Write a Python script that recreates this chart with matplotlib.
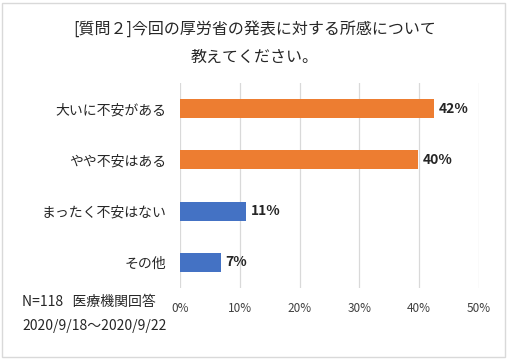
import matplotlib.pyplot as plt
from matplotlib.patches import Rectangle

plt.rcParams['font.family'] = ['Noto Sans CJK JP', 'DejaVu Sans']

# data
categories = ['大いに不安がある', 'やや不安はある', 'まったく不安はない', 'その他']
values = [42.4, 39.8, 11.0, 6.8]
labels = ['42%', '40%', '11%', '7%']
colors = ['#ED7D31', '#ED7D31', '#4472C4', '#4472C4']
xticks = [0, 10, 20, 30, 40, 50]

fig = plt.figure(figsize=(5.09, 3.6), dpi=100)
ax = fig.add_axes([180 / 509, 1 - 288 / 360, 299 / 509, 205 / 360])

y = range(len(categories))
ax.barh(y, values, height=0.37, color=colors, zorder=3)
for yi, v, lab in zip(y, values, labels):
    ax.text(v + 0.8, yi, lab, va='center', ha='left', fontsize=10,
            fontweight='bold', color='#262626')

ax.set_xlim(0, 50)
ax.set_ylim(3.5, -0.5)
ax.set_yticks(list(y))
ax.set_yticklabels(categories, fontsize=10, color='#262626')
ax.set_xticks(xticks)
ax.set_xticklabels([f'{t}%' for t in xticks], fontsize=8.5, color='#404040')
ax.tick_params(length=0)
ax.tick_params(axis='x', pad=10)
ax.tick_params(axis='y', pad=10)
ax.grid(axis='x', color='#D9D9D9', linewidth=0.9, zorder=0)
for s in ax.spines.values():
    s.set_visible(False)

fig.text(0.5, 1 - 29 / 360, '[質問２]今回の厚労省の発表に対する所感について',
         ha='center', va='center', fontsize=11.5, color='#262626')
fig.text(0.5, 1 - 57 / 360, '教えてください。',
         ha='center', va='center', fontsize=11.5, color='#262626')

fig.text(22 / 509, 1 - 302 / 360, 'N=118   医療機関回答',
         ha='left', va='center', fontsize=10, color='#262626')
fig.text(22 / 509, 1 - 326 / 360, '2020/9/18～2020/9/22',
         ha='left', va='center', fontsize=10, color='#262626')

fig.patches.append(Rectangle((0.004, 0.008), 0.988, 0.984, transform=fig.transFigure,
                             fill=False, edgecolor='#D9D9D9', linewidth=1))

fig.savefig('out.png', dpi=100)
